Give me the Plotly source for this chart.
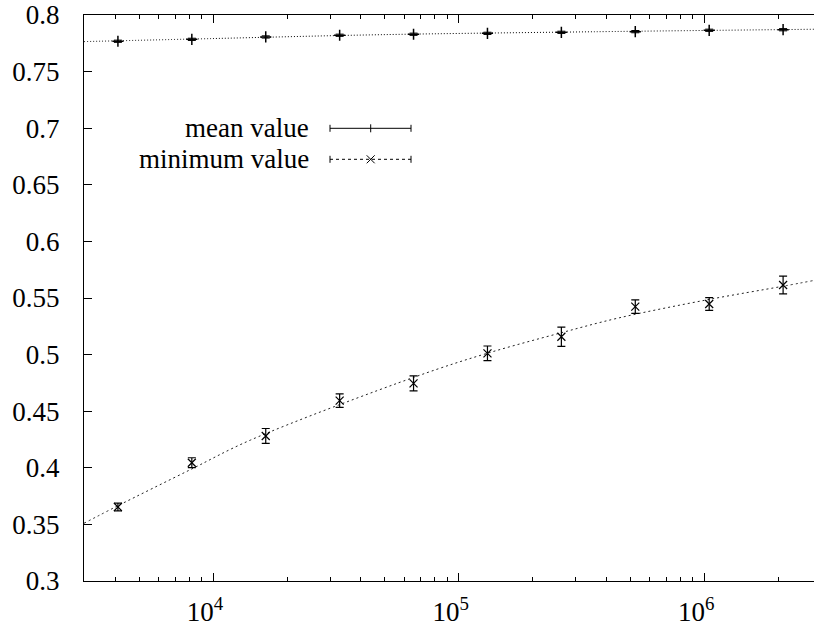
import plotly.graph_objects as go

# ---- data ----
sizes = [4096, 8192, 16384, 32768, 65536, 131072, 262144, 524288, 1048576, 2097152]
mean_vals = [0.7768, 0.7785, 0.7806, 0.7821, 0.7830, 0.7838, 0.7847, 0.7853, 0.7865, 0.7870]
mean_err = [0.001, 0.001, 0.001, 0.001, 0.001, 0.001, 0.001, 0.001, 0.001, 0.001]
min_vals = [0.3654, 0.4045, 0.4281, 0.4593, 0.4746, 0.5011, 0.5158, 0.5424, 0.5447, 0.5615]
min_err = [0.0034, 0.0044, 0.0066, 0.006, 0.0066, 0.0065, 0.0085, 0.006, 0.0057, 0.0078]

# fitted curves
fit_mean_x = [2980, 10000, 47900, 355000, 2800000]
fit_mean_y = [0.7765, 0.7792, 0.7826, 0.7852, 0.7874]
fit_min_x = [2980, 4096, 8192, 14200, 67450, 129200, 258800, 447000, 1034000, 2071000, 2800000]
fit_min_y = [0.351, 0.3665, 0.399, 0.4245, 0.4808, 0.5008, 0.519, 0.5323, 0.5485, 0.5602, 0.5655]

y_ticks = [0.3, 0.35, 0.4, 0.45, 0.5, 0.55, 0.6, 0.65, 0.7, 0.75, 0.8]
y_tick_labels = ["0.3", "0.35", "0.4", "0.45", "0.5", "0.55", "0.6", "0.65", "0.7", "0.75", "0.8"]
x_ticks = [1e4, 1e5, 1e6]
x_tick_labels = ["10<sup>4</sup>", "10<sup>5</sup>", "10<sup>6</sup>"]
x_minor = [m * 10 ** e for e in (3, 4, 5, 6) for m in range(2, 10)]
legend_labels = ["mean value", "minimum value"]

FONT = "Liberation Serif, Times New Roman, DejaVu Serif, serif"
FS = 27

fig = go.Figure()

fig.add_trace(go.Scatter(x=fit_mean_x, y=fit_mean_y, mode="lines", line_shape="spline",
                         line=dict(color="black", width=1, dash="1px,2px"), showlegend=False))
fig.add_trace(go.Scatter(x=fit_min_x, y=fit_min_y, mode="lines", line_shape="spline",
                         line=dict(color="#222", width=1, dash="2px,3px"), showlegend=False))

fig.add_trace(go.Scatter(x=sizes, y=mean_vals, mode="markers",
                         marker=dict(symbol="cross-thin", size=8, line=dict(color="black", width=1.5)),
                         error_y=dict(type="data", array=mean_err, color="black", thickness=1, width=4),
                         showlegend=False))
fig.add_trace(go.Scatter(x=sizes, y=min_vals, mode="markers",
                         marker=dict(symbol="x-thin", size=8, line=dict(color="black", width=1.2)),
                         error_y=dict(type="data", array=min_err, color="black", thickness=1.2, width=4),
                         showlegend=False))

# ---- manual gnuplot-style key ----
W, H = 730.0, 566.0
L, T = 84.0, 15.0
def px(x):
    return (x - L) / W
def py(y):
    return (T + H - y) / H

shapes = []
annotations = []
rows = [(128.3, "solid", "plus"), (159.3, "3px,3px", "x")]
for (yy, dash, mk), label in zip(rows, legend_labels):
    x0, x1, xm = 330.0, 411.0, 370.7
    shapes.append(dict(type="line", xref="paper", yref="paper", x0=px(x0), x1=px(x1), y0=py(yy), y1=py(yy),
                       line=dict(color="black", width=1, dash=dash)))
    for xc in (x0, x1):
        shapes.append(dict(type="line", xref="paper", yref="paper", x0=px(xc), x1=px(xc),
                           y0=py(yy - 3.5), y1=py(yy + 3.5), line=dict(color="black", width=1)))
    if mk == "plus":
        shapes.append(dict(type="line", xref="paper", yref="paper", x0=px(xm), x1=px(xm),
                           y0=py(yy - 4), y1=py(yy + 4), line=dict(color="black", width=1)))
    else:
        shapes.append(dict(type="line", xref="paper", yref="paper", x0=px(xm - 4), x1=px(xm + 4),
                           y0=py(yy - 4), y1=py(yy + 4), line=dict(color="black", width=1)))
        shapes.append(dict(type="line", xref="paper", yref="paper", x0=px(xm - 4), x1=px(xm + 4),
                           y0=py(yy + 4), y1=py(yy - 4), line=dict(color="black", width=1)))
    annotations.append(dict(text=label, xref="paper", yref="paper", x=px(311), y=py(yy),
                            xanchor="right", yanchor="middle", showarrow=False,
                            font=dict(family=FONT, size=FS, color="black")))

fig.update_layout(
    width=814, height=627,
    margin=dict(l=84, r=0, t=15, b=46, autoexpand=False),
    paper_bgcolor="white", plot_bgcolor="white",
    font=dict(family=FONT, size=FS, color="black"),
    shapes=shapes, annotations=annotations,
    showlegend=False,
)
fig.update_xaxes(type="log", range=[3.4742, 6.4475], showline=True, linecolor="black", linewidth=1,
                 mirror="ticks", ticks="inside", ticklen=8, tickcolor="black", automargin=False,
                 tickvals=x_ticks, ticktext=x_tick_labels, showgrid=False, zeroline=False,
                 ticklabelstandoff=7, ticklabelshift=-8, tickfont=dict(family=FONT, size=FS),
                 minor=dict(ticks="inside", ticklen=4, tickcolor="black", tickvals=x_minor, showgrid=False))
fig.update_yaxes(range=[0.3, 0.8], showline=True, linecolor="black", linewidth=1,
                 mirror=False, ticks="inside", ticklen=8, tickcolor="black", automargin=False,
                 tickvals=y_ticks, ticktext=y_tick_labels, showgrid=False, zeroline=False,
                 ticklabelstandoff=18, tickfont=dict(family=FONT, size=FS))

fig.write_html("out.html", config={"displayModeBar": False},
               post_script="document.body.style.margin='0';document.body.style.overflow='hidden';")
